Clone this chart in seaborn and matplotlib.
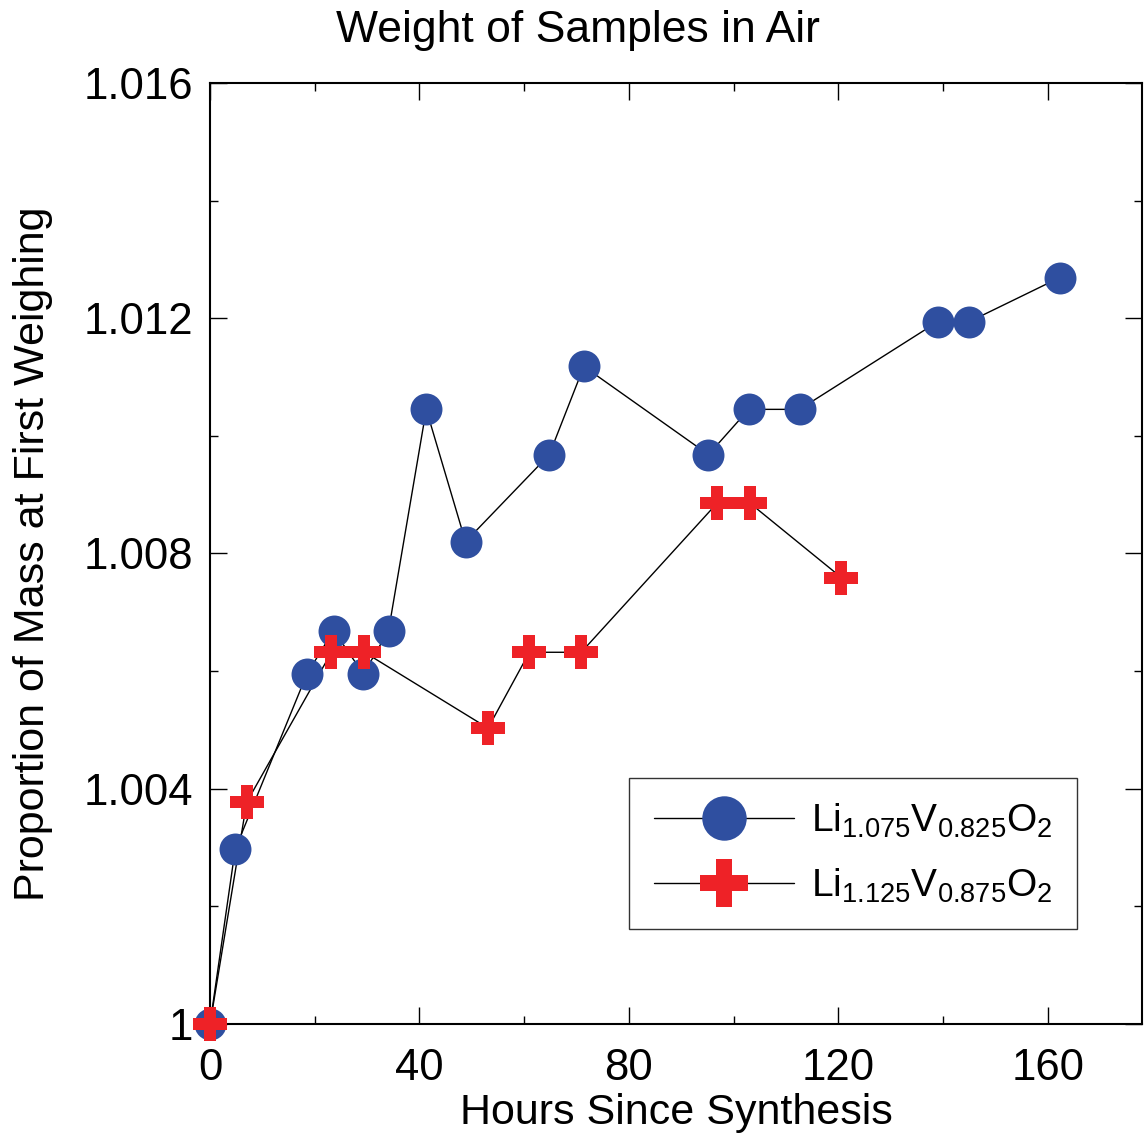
import matplotlib
matplotlib.use("Agg")
import matplotlib.pyplot as plt
import seaborn as sns
import pandas as pd
import numpy as np
from matplotlib.lines import Line2D
from matplotlib.ticker import MultipleLocator, FuncFormatter

# Data
hours_a = [0, 4.8, 18.5, 23.6, 29.3, 34.1, 41.3, 48.8, 64.8, 71.4, 95.2, 102.9, 112.6, 139.0, 145.0, 162.3]
mass_a = [1.0, 1.00297, 1.00595, 1.00669, 1.00595, 1.00669, 1.01045, 1.00820, 1.00968, 1.01118,
          1.00968, 1.01045, 1.01045, 1.01194, 1.01194, 1.01269]
hours_b = [0, 7.0, 23.2, 29.5, 53.1, 61.0, 70.9, 96.8, 103.2, 120.6]
mass_b = [1.0, 1.00377, 1.00632, 1.00632, 1.00503, 1.00632, 1.00632, 1.00885, 1.00885, 1.00759]
label_a = r'Li$_{1.075}$V$_{0.825}$O$_2$'
label_b = r'Li$_{1.125}$V$_{0.875}$O$_2$'
title = "Weight of Samples in Air"
xlabel = "Hours Since Synthesis"
ylabel = "Proportion of Mass at First Weighing"

blue = "#2f4fa0"
red = "#ee2227"

sns.set_theme(style="white")
plt.rcParams['font.family'] = ['Liberation Sans', 'DejaVu Sans']
plt.rcParams['mathtext.default'] = 'regular'
plt.rcParams['text.color'] = 'black'
plt.rcParams['axes.labelcolor'] = 'black'
plt.rcParams['xtick.color'] = 'black'
plt.rcParams['ytick.color'] = 'black'

df_a = pd.DataFrame({"h": hours_a, "m": mass_a})
df_b = pd.DataFrame({"h": hours_b, "m": mass_b})

fig = plt.figure(figsize=(11.44, 11.36), dpi=100)
ax = fig.add_axes([0.1836, 0.0986, 0.8146, 0.8284])

# lines
sns.lineplot(data=df_a, x="h", y="m", ax=ax, color="black", lw=1, estimator=None, sort=False, zorder=1)
sns.lineplot(data=df_b, x="h", y="m", ax=ax, color="black", lw=1, estimator=None, sort=False, zorder=1)
# markers
sns.lineplot(data=df_a, x="h", y="m", ax=ax, linestyle="", marker="o", markersize=23,
             markerfacecolor=blue, markeredgecolor=blue, markeredgewidth=0, estimator=None,
             sort=False, zorder=3, clip_on=False)
sns.lineplot(data=df_b, x="h", y="m", ax=ax, linestyle="", marker="P", markersize=24,
             markerfacecolor=red, markeredgecolor=red, markeredgewidth=0, estimator=None,
             sort=False, zorder=4, clip_on=False)

ax.set_xlim(0, 178)
ax.set_ylim(1.0, 1.016)
ax.xaxis.set_major_locator(MultipleLocator(40))
ax.xaxis.set_minor_locator(MultipleLocator(20))
ax.yaxis.set_major_locator(MultipleLocator(0.004))
ax.yaxis.set_minor_locator(MultipleLocator(0.002))
ax.yaxis.set_major_formatter(FuncFormatter(lambda v, p: f"{v:g}"))
ax.xaxis.set_major_formatter(FuncFormatter(lambda v, p: f"{v:g}"))

ax.tick_params(which="both", direction="in", top=True, right=True, bottom=True, left=True,
               labelsize=31.5, width=1, color="black")
ax.tick_params(axis="x", which="major", pad=17)
ax.tick_params(axis="y", which="major", pad=12)
ax.tick_params(which="major", length=12)
ax.tick_params(which="minor", length=6)
for s in ax.spines.values():
    s.set_color("black")
    s.set_linewidth(1.5)

ax.set_xlabel(xlabel, fontsize=31, labelpad=3)
ax.set_ylabel(ylabel, fontsize=31, labelpad=22)
fig.text(0.505, 0.973, title, ha="center", va="center", fontsize=32)

handles = [
    Line2D([], [], color="black", lw=1, marker="o", markersize=32, markerfacecolor=blue,
           markeredgecolor=blue, markeredgewidth=0),
    Line2D([], [], color="black", lw=1, marker="P", markersize=34, markerfacecolor=red,
           markeredgecolor=red, markeredgewidth=0),
]
leg = ax.legend(handles, [label_a, label_b], loc="lower right", bbox_to_anchor=(0.930, 0.101),
                fontsize=28, frameon=True, fancybox=False, edgecolor="black", handlelength=3.6,
                borderpad=0.62, labelspacing=0.68, handletextpad=0.45, borderaxespad=0)
leg.get_frame().set_linewidth(1)

fig.savefig("out.png", dpi=100)
